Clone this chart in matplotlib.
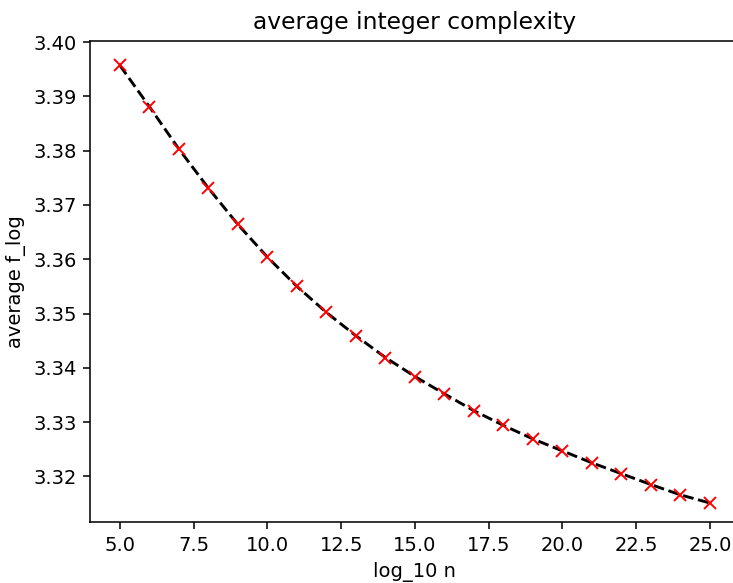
import numpy as np
import matplotlib
matplotlib.use('Agg')
import matplotlib.pyplot as plt

# log_10 n values
log_n = [5, 6, 7, 8, 9, 10, 11, 12, 13, 14, 15, 16, 17, 18, 19, 20, 21, 22, 23, 24, 25]

# average f_log
avg_flog = [3.3957, 3.3881, 3.3803, 3.3731, 3.3664, 3.3604, 3.3550, 3.3502, 3.3459,
            3.3419, 3.3384, 3.3352, 3.3321, 3.3294, 3.3269, 3.3247, 3.3225, 3.3205,
            3.3185, 3.3166, 3.3151]

# reference looks like a ~140 dpi render, so scale default sizes by 1.4
s = 1.4

fig = plt.figure(figsize=(7.33, 5.83), dpi=100)
# reference is cropped on the right, the axes run a bit past the image edge
ax = fig.add_axes([90.4 / 733, 1 - 522 / 583, 649 / 733, 481 / 583])

ax.plot(log_n, avg_flog, 'k--', linewidth=1.5 * s)
ax.plot(log_n, avg_flog, 'rx', markersize=6 * s, markeredgewidth=1.0 * s)

ax.set_xlim(4, 26)
ax.set_ylim(3.3116, 3.4002)

ax.set_title('average integer complexity', fontsize=12 * s, pad=6 * s)
ax.set_xlabel('log_10 n', fontsize=10 * s, labelpad=4 * s)
ax.set_ylabel('average f_log', fontsize=10 * s, labelpad=4 * s)
ax.tick_params(labelsize=10 * s, length=3.5 * s, width=0.8 * s, pad=3.5 * s)
for sp in ax.spines.values():
    sp.set_linewidth(0.8 * s)

plt.savefig('out.png', dpi=100)
plt.close('all')
